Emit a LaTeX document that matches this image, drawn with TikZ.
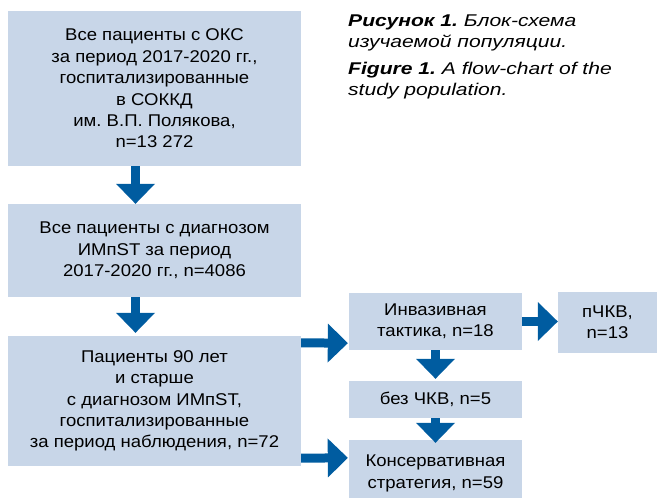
\documentclass[tikz,border=0pt]{standalone}
\usepackage{fontspec}
\setmainfont{Liberation Sans}
\newfontfamily\boxfont[FakeStretch=1.09]{Liberation Sans}
\newfontfamily\capfont[FakeStretch=1.24]{Liberation Sans}
\usetikzlibrary{arrows.meta,calc}
\definecolor{boxfill}{RGB}{200,214,232}
\definecolor{arrblue}{RGB}{0,92,160}
\frenchspacing
\begin{document}
\begin{tikzpicture}[x=1pt,y=-1pt,
  box/.style={fill=boxfill, draw=none, inner sep=0pt, align=center,
    font=\boxfont\fontsize{17}{21.4}\selectfont},
  flow/.style={draw=arrblue, line width=9pt,
    -{Triangle[length=20pt,width=39pt,line width=0pt]}},
  captxt/.style={anchor=base west, inner sep=0pt,
    font=\capfont\fontsize{17}{21}\selectfont\itshape}]
\useasboundingbox (0,0) rectangle (657,498);
\clip (0,0) rectangle (657,498);
\node[box, minimum width=293pt, minimum height=155pt] (b1) at (154.5,88.5)
  {Все пациенты с ОКС\\за период 2017-2020 гг.,\\госпитализированные\\в СОККД\\им. В.П. Полякова,\\n=13 272};
\node[box, minimum width=293pt, minimum height=93pt] (b2) at (154.5,250.5)
  {Все пациенты с диагнозом\\ИМпST за период\\2017-2020 гг., n=4086};
\node[box, minimum width=293pt, minimum height=130pt] (b3) at (154.5,401)
  {Пациенты 90 лет\\и старше\\с диагнозом ИМпST,\\госпитализированные\\за период наблюдения, n=72};
\node[box, minimum width=173pt, minimum height=57pt] (inv) at (435.5,321.5)
  {Инвазивная\\тактика, n=18};
\node[box, minimum width=99pt, minimum height=61pt] (pck) at (607.5,322.5)
  {пЧКВ,\\n=13};
\node[box, minimum width=173pt, minimum height=37pt] (bez) at (435.5,399.5)
  {без ЧКВ, n=5};
\node[box, minimum width=173pt, minimum height=67pt] (kons) at (435.5,473.5)
  {Консервативная\\стратегия, n=59};
\node[captxt] (cap1a) at (348,26.5) {\textbf{Рисунок 1.} Блок-схема};
\node[captxt] (cap1b) at (348,47.8) {изучаемой популяции.};
\node[captxt] (cap2a) at (348,74.3) {\textbf{Figure 1.} A flow-chart of the};
\node[captxt] (cap2b) at (348,95.6) {study population.};
\draw[flow] ($(b1.south)+(-19,0)$) -- ($(b2.north)+(-19,0)$);
\draw[flow] ($(b2.south)+(-19,0)$) -- ($(b3.north)+(-19,-3)$);
\draw[flow] ($(b3.north east)+(0,7)$) -- ($(inv.south west)+(-1,-7)$);
\draw[flow] ($(b3.south east)+(0,-8)$) -- ($(kons.north west)+(-1,18)$);
\draw[flow] (inv.east) -- (inv.east -| pck.west);
\draw[flow] (inv.south) -- ($(bez.north)+(0,-2)$);
\draw[flow] (bez.south) -- ($(kons.north)+(0,3)$);
\end{tikzpicture}
\end{document}
